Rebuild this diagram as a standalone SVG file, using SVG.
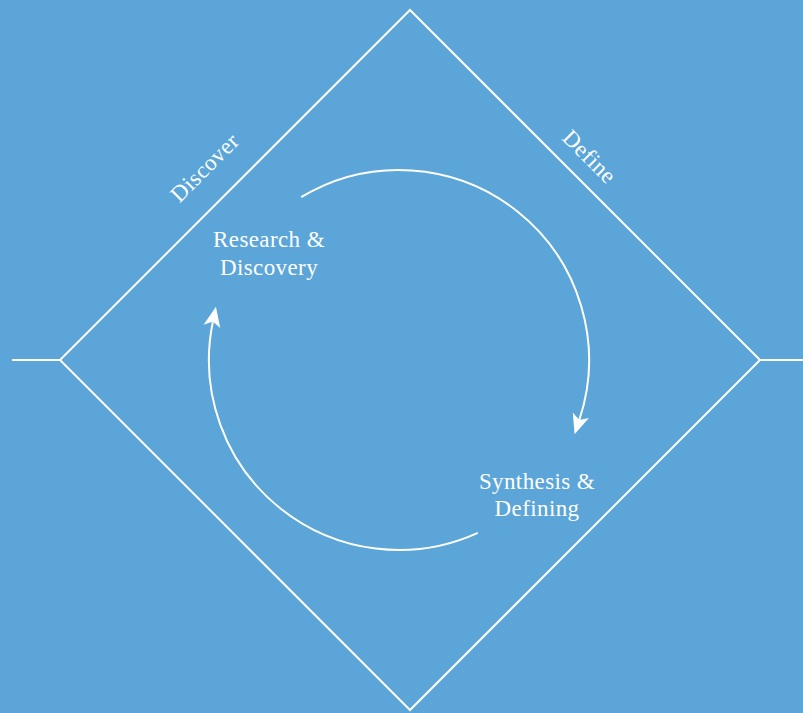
<svg xmlns="http://www.w3.org/2000/svg" width="803" height="713" viewBox="0 0 803 713">
<style>
.ln{fill:none;stroke:#fff;stroke-width:2}
.t{fill:#fff;font-family:"Liberation Serif","DejaVu Serif",serif;font-size:23px;text-anchor:middle;letter-spacing:0.4px}
</style>
<defs>
<marker id="ah" markerUnits="userSpaceOnUse" markerWidth="26" markerHeight="22" viewBox="-2 -11 26 22" refX="5" refY="0" orient="auto">
<path d="M0,-8.5 L20,0 L0,8.5 L5,0 Z" fill="#fff"/>
</marker>
</defs>
<rect width="803" height="713" fill="#5ba5d9"/>
<g id="diamond">
<path class="ln" d="M410,10 L760,360 L410,710 L60,360 Z"/>
<path class="ln" d="M12,360 L60,360 M760,360 L803,360"/>
</g>
<g id="connectors">
<path class="ln" d="M301.1,197.2 A190,190 0 0 1 579.3,420" marker-end="url(#ah)"/>
<path class="ln" d="M477.8,532.9 A190,190 0 0 1 212.9,321.5" marker-end="url(#ah)"/>
</g>
<g id="discover"><text class="t" transform="translate(210,173) rotate(-45)">Discover</text></g>
<g id="define"><text class="t" transform="translate(584,162) rotate(45)">Define</text></g>
<g id="research"><text class="t" x="269" y="247">Research &amp;</text><text class="t" x="269" y="275">Discovery</text></g>
<g id="synthesis"><text class="t" x="537" y="489">Synthesis &amp;</text><text class="t" x="537" y="516">Defining</text></g>
</svg>
